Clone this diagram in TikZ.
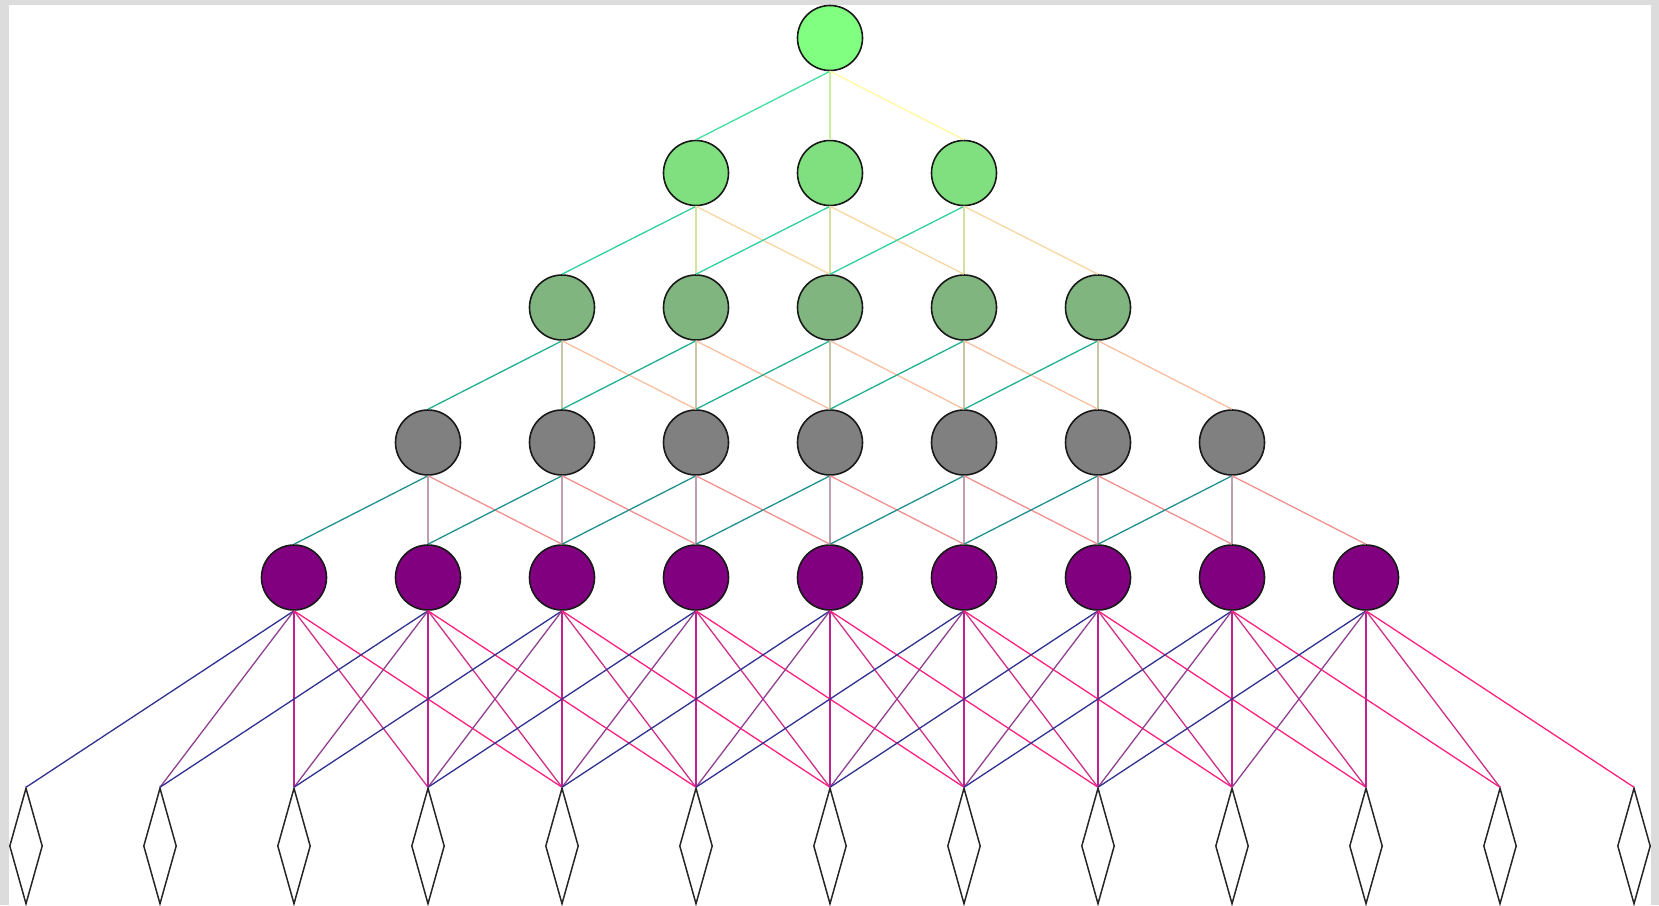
\documentclass[tikz,border=0pt]{standalone}
\usetikzlibrary{shapes.geometric}
\definecolor{fA}{HTML}{80FF80}
\definecolor{fB}{HTML}{80E080}
\definecolor{fC}{HTML}{80B580}
\definecolor{fD}{HTML}{808080}
\definecolor{fE}{HTML}{800080}
\definecolor{eAa}{HTML}{40E0A0}
\definecolor{eAb}{HTML}{C8F0A0}
\definecolor{eAc}{HTML}{FFFAA0}
\definecolor{eBa}{HTML}{30D0A0}
\definecolor{eBb}{HTML}{D8E0A0}
\definecolor{eBc}{HTML}{F8D8A0}
\definecolor{eCa}{HTML}{20B090}
\definecolor{eCb}{HTML}{C8C8A8}
\definecolor{eCc}{HTML}{F8C0A0}
\definecolor{eDa}{HTML}{209090}
\definecolor{eDb}{HTML}{C0A0B0}
\definecolor{eDc}{HTML}{F09090}
\definecolor{pa}{HTML}{303090}
\definecolor{pb}{HTML}{904090}
\definecolor{pc}{HTML}{C02090}
\definecolor{pd}{HTML}{D03088}
\definecolor{pe}{HTML}{FF2080}
\definecolor{frame}{HTML}{DCDCDC}
\begin{document}
\begin{tikzpicture}[x=0.5pt,y=-0.5pt,
  circ/.style={circle,draw=black!90,line width=0.8pt,minimum size=32.5pt,inner sep=0pt},
  dia/.style={diamond,draw=black!85,line width=0.75pt,minimum width=16.5pt,minimum height=58pt,inner sep=0pt},
  edge/.style={line width=0.65pt}]
\fill[frame] (0,0) rectangle (1659,905);
\fill[white] (8.5,5) rectangle (1651,905);
\useasboundingbox (0,0) rectangle (1659,905);
% circle nodes
\foreach \L/\y/\c in {0/38/fA,1/173/fB,2/307.5/fC,3/442.5/fD,4/577.5/fE} {
  \foreach \k in {-\L,...,\L} {
    \pgfmathtruncatemacro\kk{\k}
    \node[circ,fill=\c] (n\L\kk) at ({830+134*\kk},\y) {};
  }
}
% diamonds
\foreach \k in {-6,...,6} {
  \node[dia] (d\k) at ({830+134*\k},846) {};
}
% edges between circle levels
\foreach \L/\ca/\cb/\cc in {0/eAa/eAb/eAc,1/eBa/eBb/eBc,2/eCa/eCb/eCc,3/eDa/eDb/eDc} {
  \foreach \k in {-\L,...,\L} {
    \pgfmathtruncatemacro\kk{\k}
    \pgfmathtruncatemacro\nl{\L+1}
    \pgfmathtruncatemacro\km{\kk-1}
    \pgfmathtruncatemacro\kp{\kk+1}
    \draw[edge,\ca] (n\L\kk.south) -- (n\nl\km.north);
    \draw[edge,\cb] (n\L\kk.south) -- (n\nl\kk.north);
    \draw[edge,\cc] (n\L\kk.south) -- (n\nl\kp.north);
  }
}
% edges to diamonds
\foreach \k in {-4,...,4} {
  \foreach \o/\c in {-2/pa,-1/pb,0/pc,1/pd,2/pe} {
    \pgfmathtruncatemacro\t{\k+\o}
    \draw[edge,\c] (n4\k.south) -- (d\t.north);
  }
}
\end{tikzpicture}
\end{document}
